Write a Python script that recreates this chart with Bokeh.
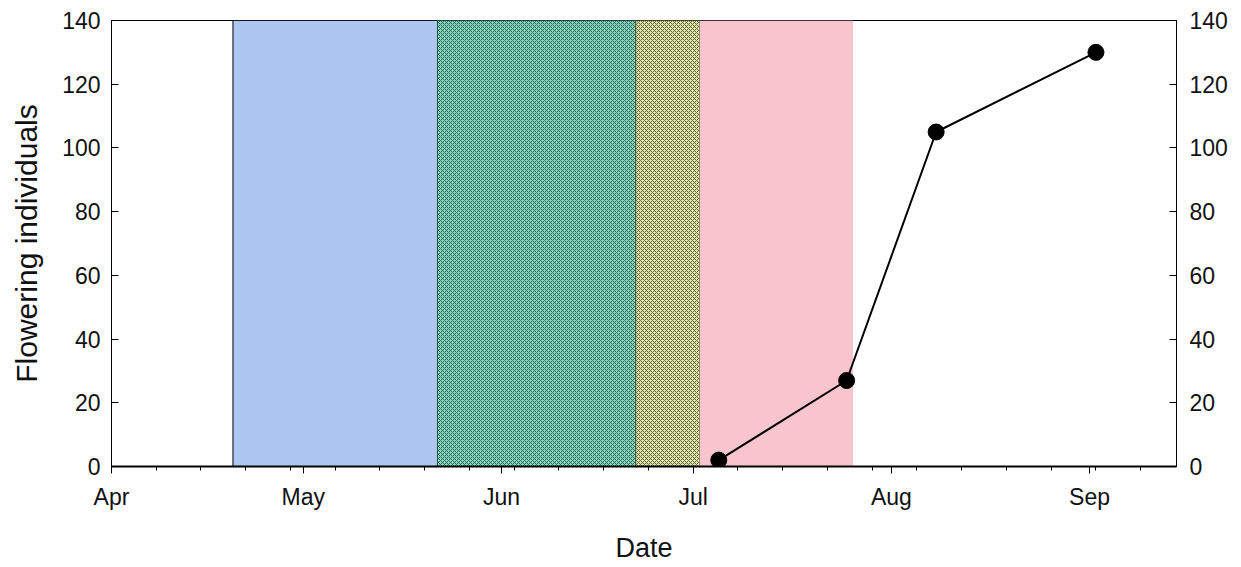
import pandas as pd
from bokeh.plotting import figure
from bokeh.models import Range1d, LinearAxis, FixedTicker
from bokeh.embed import file_html
from bokeh.resources import INLINE

YEAR = 2019
BASE = pd.Timestamp(f"{YEAR}-04-01")


def day(md):
    return (pd.Timestamp(f"{YEAR}-{md}") - BASE).days


# ---- data ----
obs_dates = ["07-05", "07-25", "08-08", "09-02"]
flowering = [2, 27, 105, 130]

period_start = ["04-20", "05-22", "06-22", "07-02"]
period_end = ["05-22", "06-22", "07-02", "07-26"]

month_ticks = ["04-01", "05-01", "06-01", "07-01", "08-01", "09-01"]
month_labels = ["Apr", "May", "Jun", "Jul", "Aug", "Sep"]

y_ticks = [0, 20, 40, 60, 80, 100, 120, 140]

# ---- styles ----
period_fill = ["#aec6f2", "#86d6c2", "#e6e2ac", "#f8c4ce"]
period_line = ["black", "#1f4d3a", "#4a4a2a", None]
period_hatch = [None, "diagonal_cross", "diagonal_cross", None]
period_hatch_color = [None, "#2b6a52", "#566b3a", None]

FONT = "Liberation Sans"
TXT = "#111111"

x_obs = [day(d) for d in obs_dates]
x0 = [day(d) for d in period_start]
x1 = [day(d) for d in period_end]
tick_days = [day(d) for d in month_ticks]

p = figure(width=1236, height=566, output_backend="svg", toolbar_location=None,
           x_range=Range1d(0, 166.6), y_range=Range1d(0, 140),
           min_border_left=111, min_border_right=60, min_border_top=20,
           min_border_bottom=100)
p.xgrid.visible = False
p.ygrid.visible = False
p.outline_line_color = "black"
p.outline_line_width = 1
p.background_fill_color = "white"
p.border_fill_color = "white"

for i in range(len(x0)):
    kw = dict(left=[x0[i]], right=[x1[i]], bottom=[0], top=[140],
              fill_color=period_fill[i])
    if period_line[i] is None:
        kw["line_color"] = None
    else:
        kw["line_color"] = period_line[i]
        kw["line_width"] = 1
    if period_hatch[i] is not None:
        kw.update(hatch_pattern=period_hatch[i], hatch_color=period_hatch_color[i],
                  hatch_scale=4, hatch_weight=1)
    p.quad(**kw)

p.line(x_obs, flowering, line_color="black", line_width=2)
p.scatter(x_obs, flowering, size=16, fill_color="black", line_color="black")

# x axis
xa = p.xaxis[0]
xa.ticker = FixedTicker(ticks=tick_days, minor_ticks=list(range(0, 167, 7)))
xa.major_label_overrides = {t: l for t, l in zip(tick_days, month_labels)}
xa.axis_label = "Date"
xa.axis_line_width = 2
xa.major_tick_in = 0
xa.major_tick_out = 7
xa.minor_tick_in = 0
xa.minor_tick_out = 4
xa.major_label_standoff = 10
xa.axis_label_standoff = 20
xa.minor_tick_line_color = "black"

# left y axis
ya = p.yaxis[0]
ya.ticker = FixedTicker(ticks=y_ticks)
ya.axis_label = "Flowering individuals"
ya.axis_label_standoff = 16
ya.major_label_standoff = 11

yr = LinearAxis(ticker=FixedTicker(ticks=y_ticks))
yr.major_label_standoff = 13
p.add_layout(yr, "right")

for ax in [ya, yr]:
    ax.major_tick_in = 7
    ax.major_tick_out = 0
    ax.minor_tick_line_color = None

for ax in [xa, ya, yr]:
    ax.axis_line_color = "black"
    ax.major_tick_line_color = "black"
    ax.major_label_text_font = FONT
    ax.major_label_text_font_size = "23px"
    ax.major_label_text_color = TXT
    ax.axis_label_text_font = FONT
    ax.axis_label_text_font_style = "normal"
    ax.axis_label_text_color = TXT
ya.axis_label_text_font_size = "30px"
xa.axis_label_text_font_size = "27px"

open("out.html", "w").write(file_html(p, INLINE))
